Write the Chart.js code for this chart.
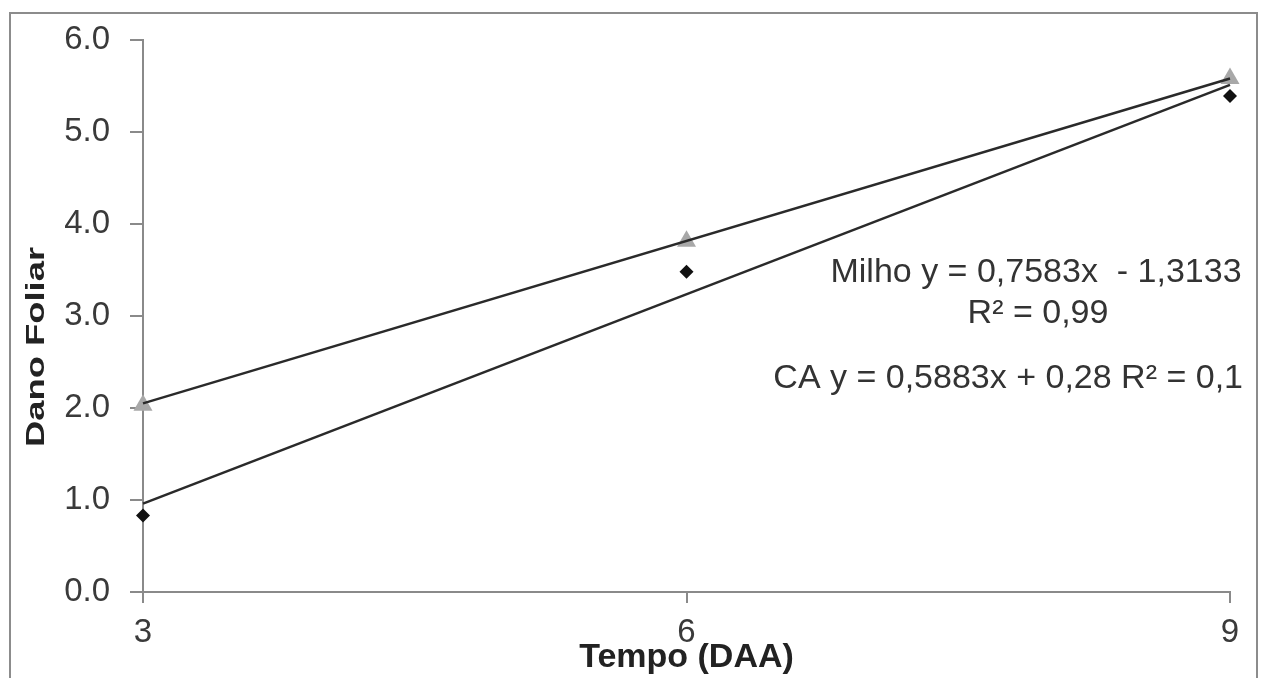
<!DOCTYPE html>
<html><head><meta charset="utf-8">
<script src="https://cdn.jsdelivr.net/npm/chart.js@4.4.1/dist/chart.umd.min.js"></script>
<style>html,body{margin:0;padding:0;background:#fff;overflow:hidden}#wrap{width:1262px;height:678px;position:relative}</style>
</head><body><div id="wrap"><canvas id="c" width="1262" height="678"></canvas></div>
<script>
// ---- data ----
const days = [3, 6, 9];
const milho = [0.83, 3.48, 5.39];
const ca = [2.03, 3.81, 5.58];
const trendX = [3, 9];
const milhoTrend = [0.96, 5.51];
const caTrend = [2.05, 5.58];
const yTicks = [0, 1, 2, 3, 4, 5, 6];
const xTicks = [3, 6, 9];
const eqMilho = 'Milho y = 0,7583x  - 1,3133';
const eqMilhoR2 = 'R\u00B2 = 0,99';
const eqCA = 'CA y = 0,5883x + 0,28 R\u00B2 = 0,1';
const xTitle = 'Tempo (DAA)';
const yTitle = 'Dano Foliar';

const FONT = "'Liberation Sans', Arial, sans-serif";
const AXIS = '#8a8a8a';
const TXT = '#3a3a3a';

const pts = (xs, ys) => xs.map((x, i) => ({x: x, y: ys[i]}));

const decor = {
  id: 'decor',
  beforeDraw(chart) {
    const ctx = chart.ctx;
    ctx.save();
    ctx.fillStyle = '#fff';
    ctx.fillRect(0, 0, chart.width, chart.height);
    ctx.strokeStyle = '#8c8c8c';
    ctx.lineWidth = 2;
    ctx.strokeRect(10, 13, 1247, 760);
    ctx.restore();
  },
  afterDraw(chart) {
    const ctx = chart.ctx;
    ctx.save();
    ctx.fillStyle = '#333';
    ctx.font = '34px ' + FONT;
    ctx.textBaseline = 'alphabetic';
    ctx.textAlign = 'center';
    ctx.fillText(eqMilho, 1036, 282);
    ctx.fillText(eqMilhoR2, 1038, 323);
    ctx.textAlign = 'right';
    ctx.fillText(eqCA, 1243, 388);
    // y axis title
    ctx.fillStyle = '#222';
    ctx.translate(44, 347);
    ctx.rotate(-Math.PI / 2);
    ctx.scale(1.4, 1);
    ctx.font = 'bold 26px ' + FONT;
    ctx.textAlign = 'center';
    ctx.fillText(yTitle, 0, 0);
    ctx.restore();
  }
};

new Chart(document.getElementById('c'), {
  type: 'scatter',
  data: {
    datasets: [
      {label: 'Milho tendência', data: pts(trendX, milhoTrend), showLine: true, pointRadius: 0,
       borderColor: '#2a2a2a', borderWidth: 2.5, clip: false},
      {label: 'CA tendência', data: pts(trendX, caTrend), showLine: true, pointRadius: 0,
       borderColor: '#2a2a2a', borderWidth: 2.5, clip: false},
      {label: 'Milho', data: pts(days, milho), pointStyle: 'rectRot', pointRadius: 7,
       backgroundColor: '#111', borderColor: '#111', borderWidth: 0, clip: false},
      {label: 'CA', data: pts(days, ca), pointStyle: 'triangle', pointRadius: 11,
       backgroundColor: '#a8a8a8', borderColor: '#a8a8a8', borderWidth: 0, clip: false}
    ]
  },
  options: {
    responsive: false,
    animation: false,
    devicePixelRatio: 1,
    layout: {padding: {left: 0, right: 32, top: 34, bottom: 0}},
    plugins: {legend: {display: false}, tooltip: {enabled: false}},
    scales: {
      x: {
        type: 'linear', min: 3, max: 9,
        afterBuildTicks: s => { s.ticks = xTicks.map(v => ({value: v})); },
        afterFit: s => { s.height = 86; },
        grid: {drawOnChartArea: false, drawTicks: true, tickLength: 11, color: AXIS, lineWidth: 2},
        border: {display: true, color: AXIS, width: 2},
        ticks: {font: {family: FONT, size: 33}, color: TXT, padding: 10, maxRotation: 0},
        title: {display: true, text: xTitle, color: '#222',
                font: {family: FONT, size: 34, weight: 'bold', lineHeight: 1.2},
                padding: {top: 0, bottom: 0}}
      },
      y: {
        type: 'linear', min: 0, max: 6,
        afterBuildTicks: s => { s.ticks = yTicks.map(v => ({value: v})); },
        afterFit: s => { s.width = 143; },
        grid: {drawOnChartArea: false, drawTicks: true, tickLength: 13, color: AXIS, lineWidth: 2},
        border: {display: true, color: AXIS, width: 2},
        ticks: {font: {family: FONT, size: 33}, color: TXT, padding: 20,
                callback: v => Number(v).toFixed(1)}
      }
    }
  },
  plugins: [decor]
});
</script>
</body></html>
